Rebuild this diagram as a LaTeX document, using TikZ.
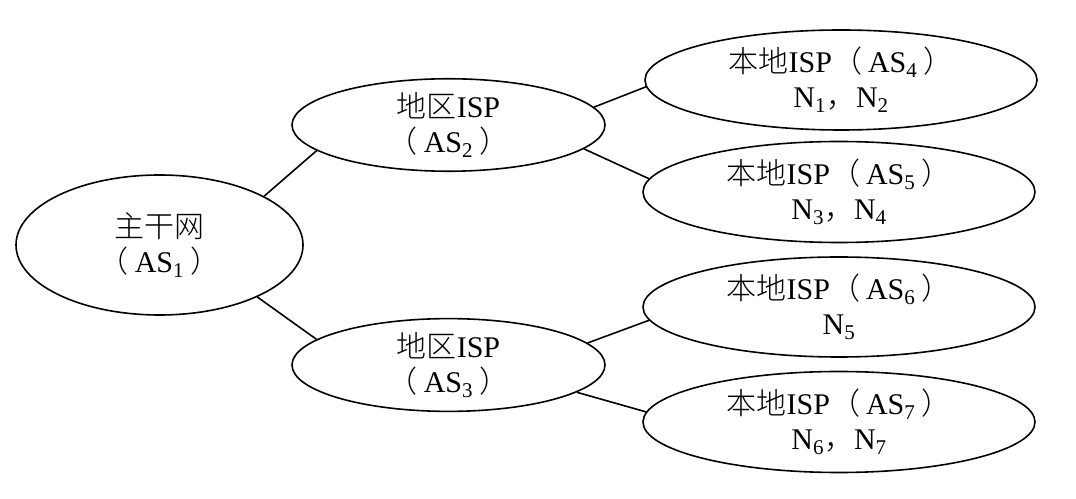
\documentclass[tikz,border=0pt]{standalone}
\usepackage{fontspec}
\setmainfont{Liberation Serif}
\newfontfamily\cjk{Noto Sans CJK SC}[UprightFont=* Light]
\usetikzlibrary{shapes.geometric}
\newcommand{\lp}{{\cjk （}\hspace{6pt}}
\newcommand{\rp}{\hspace{6pt}{\cjk ）}}
\newcommand{\cm}{{\cjk ，}}
\begin{document}
\begin{tikzpicture}[x=1pt,y=1pt,
  ell/.style={draw,ellipse,line width=1.6pt,inner sep=0pt,align=center,
    font=\fontsize{30}{35}\selectfont},
  link/.style={line width=1.6pt}]
\useasboundingbox (0,0) rectangle (1076,498);
\node[ell,minimum width=287pt,minimum height=140pt] (main) at (159.5,253) {{\cjk 主干网}\\\lp AS\textsubscript{1}\rp};
\node[ell,minimum width=313pt,minimum height=84pt] (as2) at (448.5,373) {{\cjk 地区}ISP\\\lp AS\textsubscript{2}\rp};
\node[ell,minimum width=313pt,minimum height=84pt] (as3) at (448.5,133) {{\cjk 地区}ISP\\\lp AS\textsubscript{3}\rp};
\node[ell,minimum width=392pt,minimum height=100pt] (as4) at (841,418) {{\cjk 本地}ISP\lp AS\textsubscript{4}\rp\\N\textsubscript{1}\cm N\textsubscript{2}};
\node[ell,minimum width=392pt,minimum height=101pt] (as5) at (839,306) {{\cjk 本地}ISP\lp AS\textsubscript{5}\rp\\N\textsubscript{3}\cm N\textsubscript{4}};
\node[ell,minimum width=392pt,minimum height=100pt] (as6) at (839,191) {{\cjk 本地}ISP\lp AS\textsubscript{6}\rp\\N\textsubscript{5}};
\node[ell,minimum width=392pt,minimum height=101pt] (as7) at (839,76) {{\cjk 本地}ISP\lp AS\textsubscript{7}\rp\\N\textsubscript{6}\cm N\textsubscript{7}};
\draw[link] (main.25) -- (as2.191);
\draw[link] (main.-28) -- (as3.169);
\draw[link] (as2.7) -- (as4.182);
\draw[link] (as2.-10) -- (as5.176);
\draw[link] (as3.9) -- (as6.184.5);
\draw[link] (as3.-12) -- (as7.177);
\end{tikzpicture}
\end{document}
